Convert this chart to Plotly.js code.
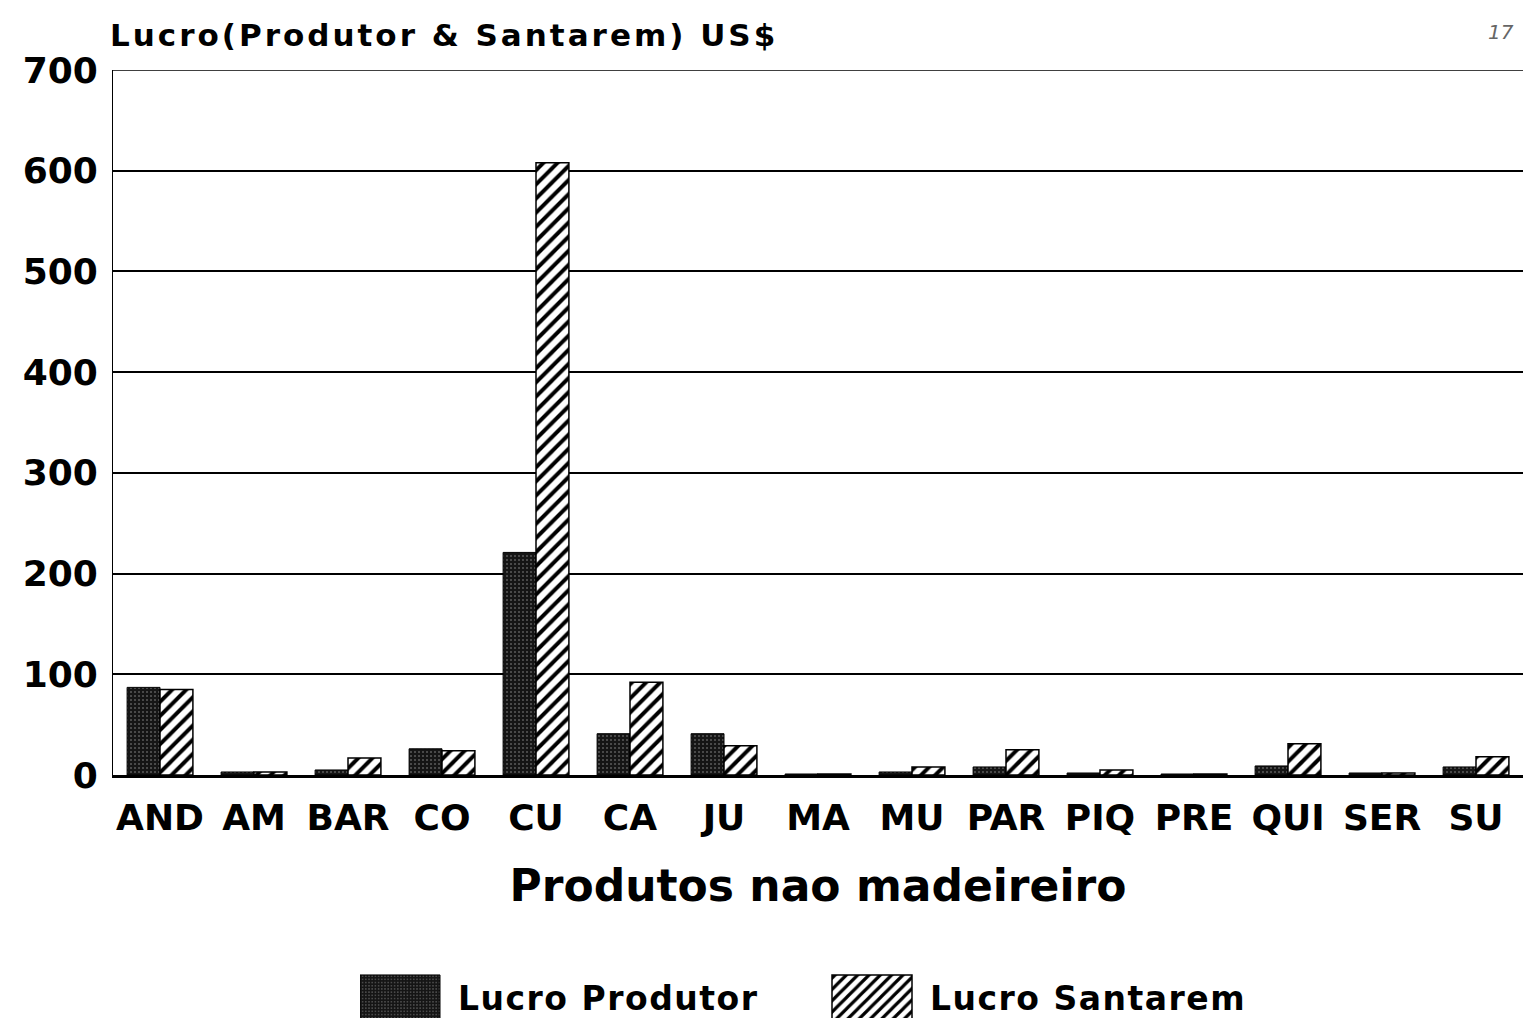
<!DOCTYPE html>
<html>
<head>
<meta charset="utf-8">
<script src="https://cdn.plot.ly/plotly-3.0.1.min.js"></script>
<style>
  html, body { margin: 0; padding: 0; background: #fff; }
  #chart { width: 1523px; height: 1018px; }
  /* the scanned original has widely spaced lettering */
  #chart .gtitle { letter-spacing: 3px; }
  #chart .legendtext { letter-spacing: 1.5px; }
  /* big legend swatches like the original */
  #chart .legend .legendpoints path { d: path('M-49,22H31V-22H-49Z'); }
</style>
</head>
<body>
<div id="chart"></div>
<script>
// Lucro por produto nao madeireiro (US$)
const categories = ['AND', 'AM', 'BAR', 'CO', 'CU', 'CA', 'JU', 'MA', 'MU', 'PAR', 'PIQ', 'PRE', 'QUI', 'SER', 'SU'];
const lucroProdutor = [87, 3, 5, 26, 221, 41, 41, 1, 3, 8, 2, 1, 9, 2, 8];
const lucroSantarem = [85, 3, 17, 24, 608, 92, 29, 1, 8, 25, 5, 1, 31, 2, 18];
const yTicks = [0, 100, 200, 300, 400, 500, 600, 700];

const FONT = 'DejaVu Sans, Verdana, sans-serif';

const produtor = {
    x: categories,
    y: lucroProdutor,
    type: 'bar',
    name: 'Lucro Produtor',
    marker: {
        color: '#151515',
        line: { color: '#000', width: 1 },
        pattern: { shape: '.', fgcolor: '#5a5a5a', bgcolor: '#151515', size: 4, solidity: 0.2 }
    }
};

const santarem = {
    x: categories,
    y: lucroSantarem,
    type: 'bar',
    name: 'Lucro Santarem',
    marker: {
        color: '#fff',
        line: { color: '#000', width: 1.5 },
        pattern: { shape: '/', fgcolor: '#000', bgcolor: '#fff', size: 10, solidity: 0.4 }
    }
};

const layout = {
    width: 1523,
    height: 1018,
    margin: { l: 113, r: 0, t: 70, b: 243 },
    paper_bgcolor: '#fff',
    plot_bgcolor: '#fff',
    font: { family: FONT, color: '#000', weight: 'bold' },
    barmode: 'group',
    bargap: 0.3,
    bargroupgap: 0,
    title: {
        text: 'Lucro(Produtor &amp; Santarem) US$',
        font: { size: 31, family: FONT, color: '#000', weight: 'bold' },
        xref: 'container',
        yref: 'container',
        x: 110 / 1523,
        xanchor: 'left',
        y: 1 - 35 / 1018,
        yanchor: 'middle'
    },
    xaxis: {
        type: 'category',
        showgrid: false,
        ticks: '',
        tickfont: { size: 36, family: FONT, weight: 'bold' },
        ticklabelstandoff: 9,
        showline: true,
        linecolor: '#000',
        linewidth: 3,
        automargin: false,
        title: {
            text: 'Produtos nao madeireiro',
            font: { size: 44, family: FONT, weight: 'bold' },
            standoff: 33
        }
    },
    yaxis: {
        range: [0, 700],
        tickvals: yTicks,
        ticktext: yTicks.map(String),
        tickfont: { size: 36, family: FONT, weight: 'bold' },
        ticks: '',
        ticklabelstandoff: 7,
        showgrid: true,
        gridcolor: '#000',
        gridwidth: 1.5,
        showline: true,
        linecolor: '#000',
        linewidth: 1,
        zeroline: false,
        automargin: false
    },
    // top gridline at 700 (plotly drops the gridline at the range edge)
    shapes: [{
        type: 'line', xref: 'paper', yref: 'y',
        x0: 0, x1: 1, y0: 700, y1: 700,
        line: { color: '#000', width: 1.5 }
    }],
    showlegend: true,
    legend: {
        orientation: 'h',
        xref: 'container',
        yref: 'container',
        x: 360 / 1523,
        xanchor: 'left',
        y: 1 - 997 / 1018,
        yanchor: 'middle',
        font: { size: 33, family: FONT, weight: 'bold' },
        itemwidth: 88,
        entrywidth: 369,
        traceorder: 'normal'
    },
    annotations: [{
        text: '17',
        xref: 'paper', yref: 'paper',
        x: 0.995, y: 1 + 38 / 705,
        xanchor: 'right', yanchor: 'middle',
        showarrow: false,
        font: { size: 20, family: FONT, color: '#666', style: 'italic', weight: 'normal' }
    }]
};

Plotly.newPlot('chart', [produtor, santarem], layout, { displayModeBar: false, responsive: false });
</script>
</body>
</html>
